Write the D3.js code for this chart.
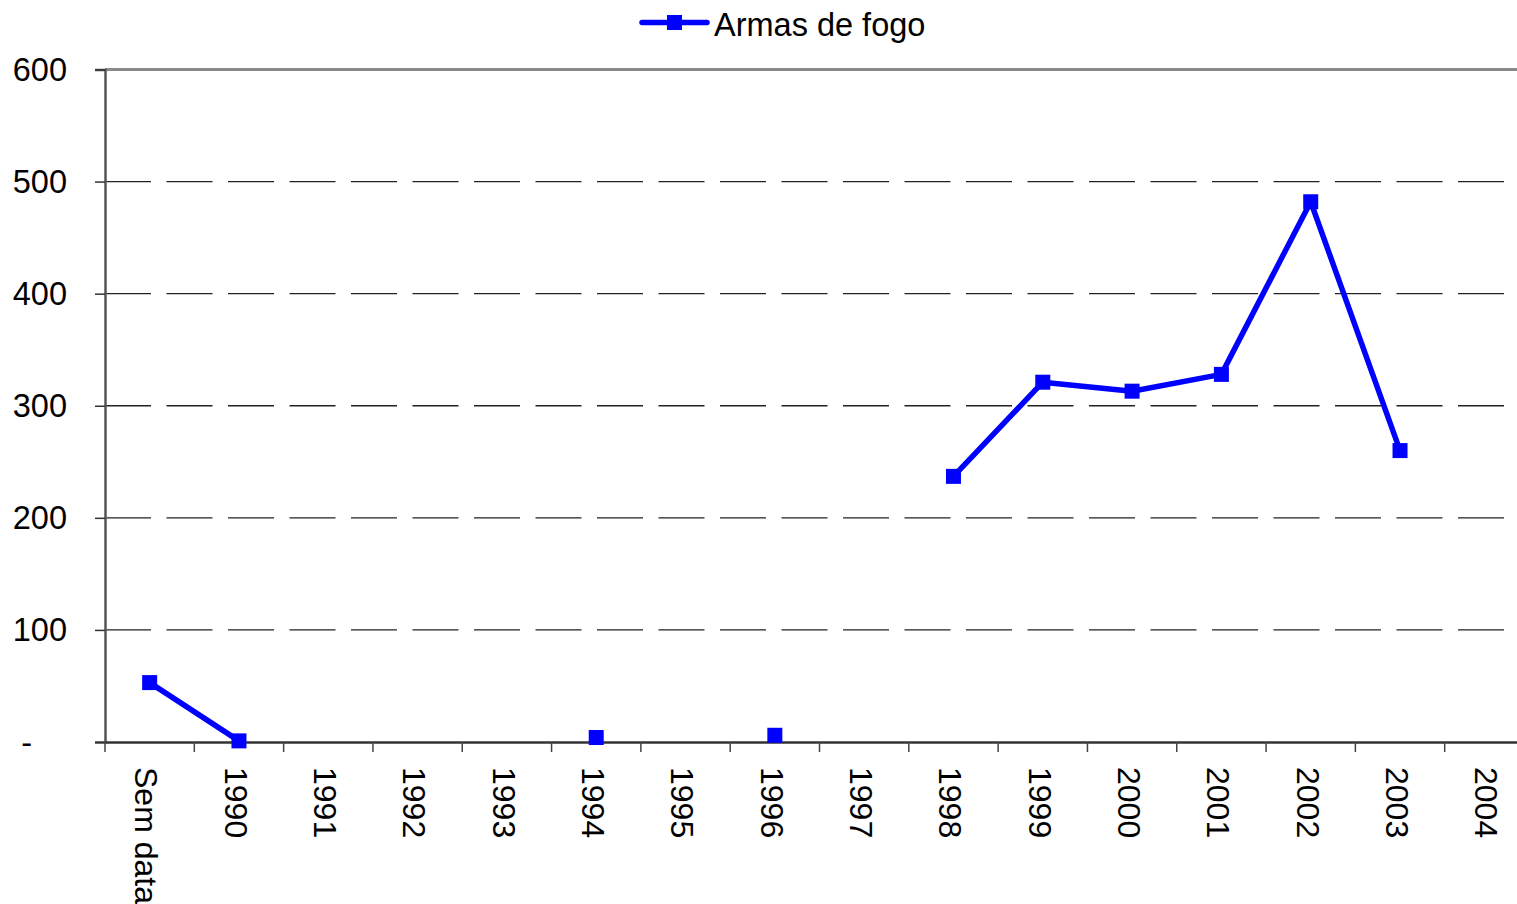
<!DOCTYPE html>
<html>
<head>
<meta charset="utf-8">
<script src="https://cdn.jsdelivr.net/npm/d3@7"></script>
<style>
  html, body { margin: 0; padding: 0; background: #fff; overflow: hidden; }
  svg { display: block; font-family: "Liberation Sans", Arial, sans-serif; }
</style>
</head>
<body>
<svg id="chart" width="1517" height="904"></svg>
<script>
const categories = ["Sem data", "1990", "1991", "1992", "1993", "1994", "1995", "1996", "1997", "1998", "1999", "2000", "2001", "2002", "2003", "2004"];
const armasDeFogo = [53, 1, null, null, null, 4, null, 6, null, 237, 321, 313, 328, 482, 260, null];
const yTicks = [0, 100, 200, 300, 400, 500, 600];
const yTickLabels = ["-", "100", "200", "300", "400", "500", "600"];
const seriesName = "Armas de fogo";

(function () {
const svg = d3.select("#chart");
const pLeft = 105, pRight = 1534, pTop = 69.5, pBottom = 742;
const fs = 32.5;

const x = d3.scaleBand().domain(categories).range([pLeft, pRight]).paddingInner(0).paddingOuter(0);
const y = d3.scaleLinear().domain([0, 600]).range([pBottom, pTop]);

// gridlines
svg.append("g").selectAll("line")
  .data(yTicks.filter(d => d > 0 && d < 600))
  .join("line")
  .attr("x1", pLeft).attr("x2", pRight)
  .attr("y1", d => y(d)).attr("y2", d => y(d))
  .attr("stroke", "#222").attr("stroke-width", 1.4)
  .attr("stroke-dasharray", "46,15.5");

// top border
svg.append("line")
  .attr("x1", pLeft).attr("x2", pRight).attr("y1", pTop).attr("y2", pTop)
  .attr("stroke", "#8a8a8a").attr("stroke-width", 3);

// Y axis
const yAxis = d3.axisLeft(y).tickValues(yTicks).tickSize(10).tickPadding(28)
  .tickFormat((d, i) => yTickLabels[i]);
const gy = svg.append("g").attr("transform", `translate(${pLeft},0)`).call(yAxis);
gy.select(".domain").attr("stroke", "#555").attr("stroke-width", 2.5);
gy.selectAll(".tick line").attr("stroke", "#333").attr("stroke-width", 1.5);
gy.selectAll(".tick text")
  .attr("font-size", fs).attr("fill", "#000")
  .attr("font-family", "'Liberation Sans', Arial, sans-serif")
  .attr("dy", "0.34em")
  .each(function(d) { if (d === 0) d3.select(this).attr("x", -73); });

// X axis
const xAxis = d3.axisBottom(x).tickSize(0).tickFormat(d => d);
const gx = svg.append("g").attr("transform", `translate(0,${pBottom})`).call(xAxis);
gx.select(".domain").attr("stroke", "#333").attr("stroke-width", 2.5);
gx.selectAll(".tick text")
  .attr("font-size", 32).attr("fill", "#000")
  .attr("font-family", "'Liberation Sans', Arial, sans-serif")
  .attr("text-anchor", "start")
  .attr("transform", "translate(-3,25) rotate(90)")
  .attr("x", 0).attr("y", 0).attr("dy", "0.35em");
// category boundary ticks
const boundaries = categories.map(c => x(c)).concat([pRight]);
svg.append("g").selectAll("line").data(boundaries).join("line")
  .attr("x1", d => d).attr("x2", d => d)
  .attr("y1", pBottom).attr("y2", pBottom + 10)
  .attr("stroke", "#444").attr("stroke-width", 1.5);

// series line
const cx = d => x(d.cat) + x.bandwidth() / 2;
const pts = categories.map((c, i) => ({ cat: c, v: armasDeFogo[i] }));
const line = d3.line().defined(d => d.v !== null).x(cx).y(d => y(d.v));
svg.append("path").datum(pts)
  .attr("d", line)
  .attr("fill", "none").attr("stroke", "#0000ff").attr("stroke-width", 5.5)
  .attr("stroke-linejoin", "round");

const ms = 15;
svg.append("g").selectAll("rect").data(pts.filter(d => d.v !== null)).join("rect")
  .attr("x", d => cx(d) - ms / 2).attr("y", d => y(d.v) - ms / 2)
  .attr("width", ms).attr("height", ms)
  .attr("fill", "#0000ff");

// legend
const lg = svg.append("g");
lg.append("line").attr("x1", 642).attr("x2", 707).attr("y1", 22.5).attr("y2", 22.5)
  .attr("stroke", "#0000ff").attr("stroke-width", 5.5).attr("stroke-linecap", "round");
lg.append("rect").attr("x", 667).attr("y", 15).attr("width", 15).attr("height", 15).attr("fill", "#0000ff");
lg.append("text").attr("x", 714).attr("y", 35.5).attr("font-size", fs).attr("fill", "#000")
  .text(seriesName);
})();
</script>
</body>
</html>
